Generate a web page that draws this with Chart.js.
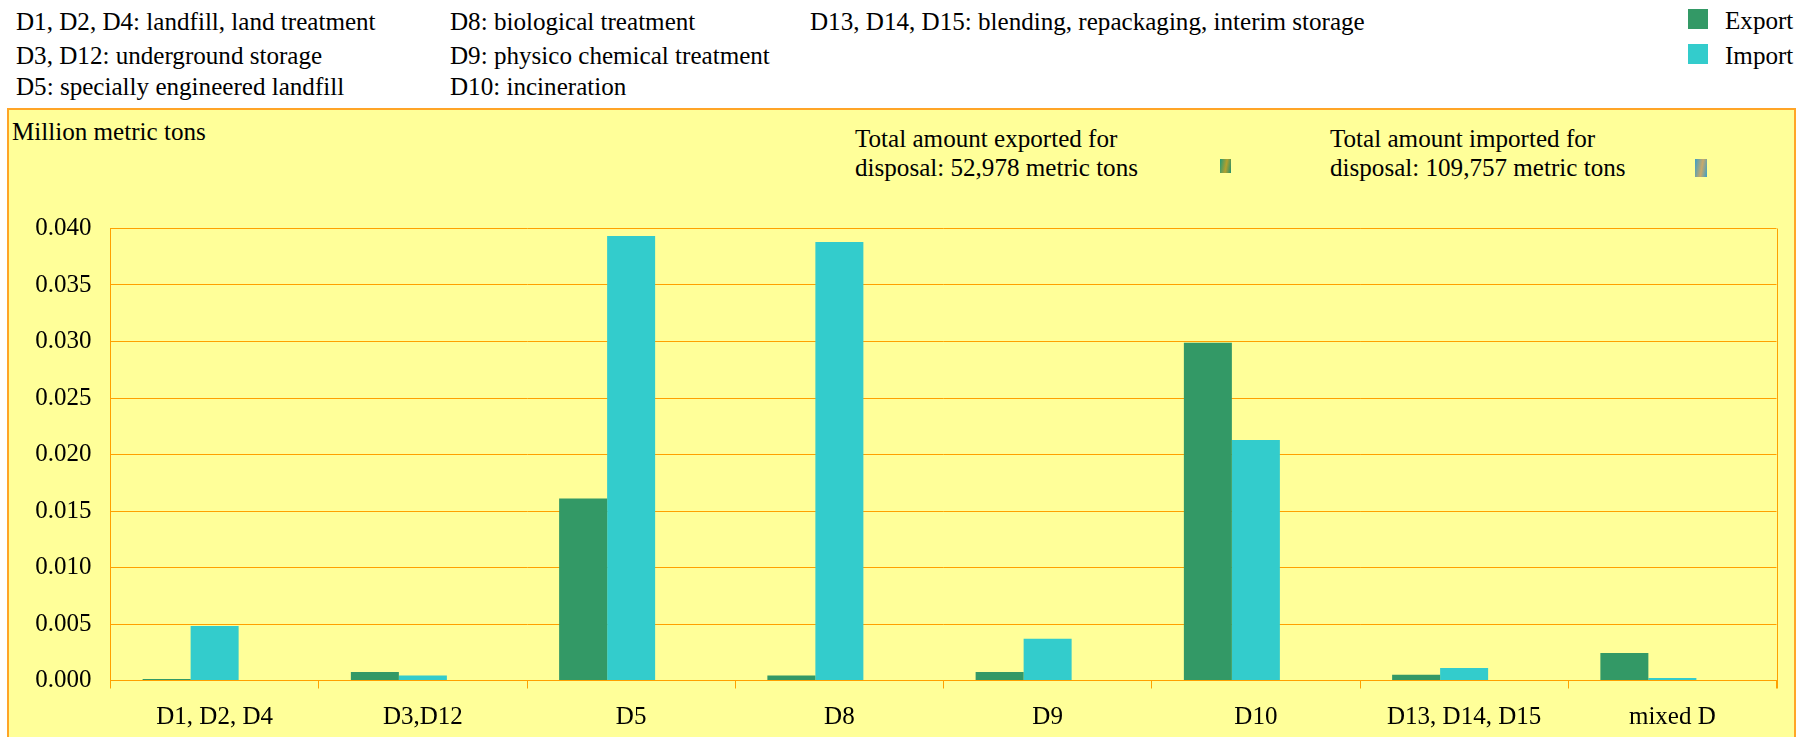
<!DOCTYPE html>
<html>
<head>
<meta charset="utf-8">
<title>Disposal of hazardous waste</title>
<script src="https://cdn.jsdelivr.net/npm/chart.js@4"></script>
<style>
    html, body { margin: 0; padding: 0; background: #fff; overflow: hidden; }
    body { width: 1797px; height: 737px; position: relative; font-family: "Liberation Serif", serif; font-size: 25.1px; color: #000; }
    #panel { position: absolute; left: 7px; top: 108px; width: 1785px; height: 660px; background: #ffff99; border: 2px solid #ffa526; }
    #chart-wrap { position: absolute; left: 0; top: 0; width: 1797px; height: 737px; }
    .note { position: absolute; white-space: nowrap; line-height: 28px; }
    .swatch { position: absolute; left: 1688px; width: 20px; height: 20px; }
    .barrel { position: absolute; top: 159px; }
</style>
</head>
<body>
<div id="panel"></div>

<div class="note" style="left:16px;top:8px">D1, D2, D4: landfill, land treatment</div>
<div class="note" style="left:16px;top:42px">D3, D12: underground storage</div>
<div class="note" style="left:16px;top:73px">D5: specially engineered landfill</div>
<div class="note" style="left:450px;top:8px">D8: biological treatment</div>
<div class="note" style="left:450px;top:42px">D9: physico chemical treatment</div>
<div class="note" style="left:450px;top:73px">D10: incineration</div>
<div class="note" style="left:810px;top:8px">D13, D14, D15: blending, repackaging, interim storage</div>

<div class="note" style="left:12px;top:118px">Million metric tons</div>
<div class="note" style="left:855px;top:125px">Total amount exported for</div>
<div class="note" style="left:855px;top:154px">disposal: 52,978 metric tons</div>
<div class="note" style="left:1330px;top:125px">Total amount imported for</div>
<div class="note" style="left:1330px;top:154px">disposal: 109,757 metric tons</div>

<div class="barrel" style="left:1220px;width:11px;height:14px;background:linear-gradient(100deg,#1f9a7a,#b5a02c 55%,#1f8f70)"></div>
<div class="barrel" style="left:1695px;width:12px;height:18px;background:linear-gradient(100deg,#3a9fc9,#c9a96a 55%,#3a9fc9)"></div>

<div id="legend"></div>
<div id="chart-wrap"><canvas id="chart"></canvas></div>

<script>
const categories = ["D1, D2, D4", "D3,D12", "D5", "D8", "D9", "D10", "D13, D14, D15", "mixed D"];
const exportValues = [0.00013, 0.00075, 0.0161, 0.00045, 0.00075, 0.0299, 0.0005, 0.00243];
const importValues = [0.00482, 0.00045, 0.03934, 0.0388, 0.0037, 0.02128, 0.0011, 0.00022];
// the original has an empty third series, that is why the bars sit left of the tick centre
const emptyValues = [null, null, null, null, null, null, null, null];
const seriesNames = ["Export", "Import"];
const seriesColors = ["#339966", "#33cccc"];

const orange = "#ffa000";

// legend
const legendEl = document.getElementById("legend");
seriesNames.forEach((name, i) => {
    const top = 8.5 + i * 35;
    legendEl.innerHTML += `<div class="swatch" style="top:${top}px;background:${seriesColors[i]}"></div>` +
        `<div class="note" style="left:1725px;top:${top - 2}px">${name}</div>`;
});

// right edge of the plot box, runs down to the tick length
const rightEdge = {
    id: "rightEdge",
    afterDraw(chart) {
        const { ctx, chartArea } = chart;
        ctx.save();
        ctx.strokeStyle = orange;
        ctx.lineWidth = 1;
        ctx.beginPath();
        ctx.moveTo(Math.round(chartArea.right) + 0.5, chartArea.top);
        ctx.lineTo(Math.round(chartArea.right) + 0.5, chartArea.bottom + 8);
        ctx.stroke();
        ctx.restore();
    }
};

new Chart(document.getElementById("chart").getContext("2d"), {
    type: "bar",
    data: {
        labels: categories,
        datasets: [
            { label: seriesNames[0], data: exportValues, backgroundColor: seriesColors[0] },
            { label: seriesNames[1], data: importValues, backgroundColor: seriesColors[1] },
            { label: "", data: emptyValues }
        ]
    },
    options: {
        responsive: true,
        maintainAspectRatio: false,
        animation: false,
        layout: { padding: { top: 228.5, right: 20.5, bottom: 0, left: 0 } },
        datasets: { bar: { categoryPercentage: 0.6915, barPercentage: 1 } },
        plugins: { legend: { display: false }, title: { display: false }, tooltip: { enabled: false } },
        scales: {
            x: {
                afterFit(scale) { scale.height = 56.5; },
                border: { color: orange, width: 1 },
                grid: { color: orange, drawOnChartArea: false, drawTicks: true, tickLength: 8, offset: true },
                ticks: {
                    color: "#000",
                    maxRotation: 0,
                    autoSkip: false,
                    padding: 14,
                    font: { family: "'Liberation Serif', serif", size: 25 }
                }
            },
            y: {
                min: 0,
                max: 0.04,
                afterFit(scale) { scale.width = 110.5; },
                border: { color: orange, width: 1 },
                grid: { color: orange, drawTicks: false },
                ticks: {
                    stepSize: 0.005,
                    color: "#000",
                    padding: 19,
                    callback: value => value.toFixed(3),
                    font: { family: "'Liberation Serif', serif", size: 25 }
                }
            }
        }
    },
    plugins: [rightEdge]
});
</script>
</body>
</html>
